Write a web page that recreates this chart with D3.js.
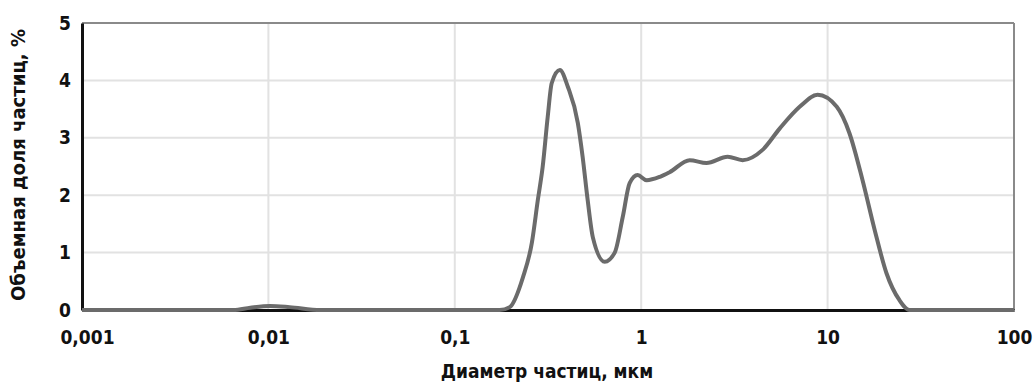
<!DOCTYPE html>
<html>
<head>
<meta charset="utf-8">
<script src="https://cdn.jsdelivr.net/npm/d3@7"></script>
<style>
  body { margin: 0; background: #fff; }
  svg text { font-family: "Liberation Sans Narrow", "Arial Narrow", "DejaVu Sans Condensed", "Liberation Sans", Arial, sans-serif; font-stretch: condensed; font-weight: bold; fill: #111; }
</style>
</head>
<body>
<div id="chart"></div>
<script>
// particle diameter, um
const diameters = [0.001, 0.0065, 0.008, 0.0102, 0.013, 0.019, 0.174, 0.197, 0.232, 0.259, 0.279, 0.296, 0.315,
  0.331, 0.366, 0.404, 0.457, 0.485, 0.516, 0.55, 0.637, 0.721, 0.796, 0.867, 0.957, 1.07, 1.26, 1.42,
  1.82, 2.24, 2.91, 3.5, 4.48, 5.53, 7.08, 8.84, 11.2, 13.1, 15.4, 17.9, 20.7, 24.3, 27.5, 100]
// volume fraction, %
const volumes = [0, 0, 0.04, 0.07, 0.05, 0, 0, 0.05, 0.57, 1.17, 1.92, 2.49, 3.36,
  3.95, 4.18, 3.89, 3.26, 2.67, 1.92, 1.27, 0.84, 1.0, 1.62, 2.21, 2.35, 2.26, 2.32, 2.4,
  2.61, 2.56, 2.67, 2.61, 2.79, 3.16, 3.54, 3.75, 3.54, 3.08, 2.26, 1.39, 0.64, 0.17, 0, 0]

const xTicks = [0.001, 0.01, 0.1, 1, 10, 100]
const xTickLabels = ['0,001', '0,01', '0,1', '1', '10', '100']
const yTicks = [0, 1, 2, 3, 4, 5]

const width = 1034, height = 383
const margin = { top: 23, right: 20, bottom: 73, left: 82 }
const innerW = width - margin.left - margin.right
const innerH = height - margin.top - margin.bottom

const svg = d3.select('#chart').append('svg')
  .attr('width', width)
  .attr('height', height)

const g = svg.append('g').attr('transform', `translate(${margin.left},${margin.top})`)

const x = d3.scaleLog().domain([0.001, 100]).range([0, innerW])
const y = d3.scaleLinear().domain([0, 5]).range([innerH, 0])

// grid
g.append('g').selectAll('line')
  .data(yTicks.slice(1, -1))
  .join('line')
  .attr('x1', 0).attr('x2', innerW)
  .attr('y1', d => y(d)).attr('y2', d => y(d))
  .attr('stroke', '#e2e2e2').attr('stroke-width', 2)

g.append('g').selectAll('line')
  .data(xTicks.slice(1, -1))
  .join('line')
  .attr('x1', d => x(d)).attr('x2', d => x(d))
  .attr('y1', 0).attr('y2', innerH)
  .attr('stroke', '#e2e2e2').attr('stroke-width', 2)

// top / right frame (grey)
g.append('line').attr('x1', 0).attr('x2', innerW).attr('y1', 0).attr('y2', 0)
  .attr('stroke', '#8a8a8a').attr('stroke-width', 2)
g.append('line').attr('x1', innerW).attr('x2', innerW).attr('y1', 0).attr('y2', innerH)
  .attr('stroke', '#8a8a8a').attr('stroke-width', 2)

// axes
const xAxis = g.append('g')
  .attr('transform', `translate(0,${innerH})`)
  .call(d3.axisBottom(x).tickValues(xTicks).tickFormat((d, i) => xTickLabels[i]).tickSize(0).tickPadding(21))
xAxis.select('.domain').attr('stroke', '#111').attr('stroke-width', 3)
xAxis.selectAll('text').attr('font-size', 19).attr('fill', '#111')
xAxis.selectAll('text').filter((d, i) => i === 0).attr('dx', 5)

const yAxis = g.append('g')
  .call(d3.axisLeft(y).tickValues(yTicks).tickFormat(d3.format('d')).tickSize(0).tickPadding(11))
yAxis.select('.domain').attr('stroke', '#111').attr('stroke-width', 3)
yAxis.selectAll('text').attr('font-size', 19).attr('fill', '#111')

// curve
g.append('path')
  .datum(diameters.map((d, i) => [d, volumes[i]]))
  .attr('fill', 'none')
  .attr('stroke', '#6b6b6b')
  .attr('stroke-width', 4)
  .attr('stroke-linejoin', 'round')
  .attr('d', d3.line().x(d => x(d[0])).y(d => y(d[1])).curve(d3.curveMonotoneX))

// titles
svg.append('text')
  .attr('x', 547)
  .attr('y', 378)
  .attr('text-anchor', 'middle')
  .attr('font-size', 19)
  .text('Диаметр частиц, мкм')

svg.append('text')
  .attr('transform', `translate(25,${margin.top + 142}) rotate(-90)`)
  .attr('text-anchor', 'middle')
  .attr('font-size', 19)
  .attr('textLength', 272)
  .attr('lengthAdjust', 'spacingAndGlyphs')
  .text('Объемная доля частиц, %')
</script>
</body>
</html>
